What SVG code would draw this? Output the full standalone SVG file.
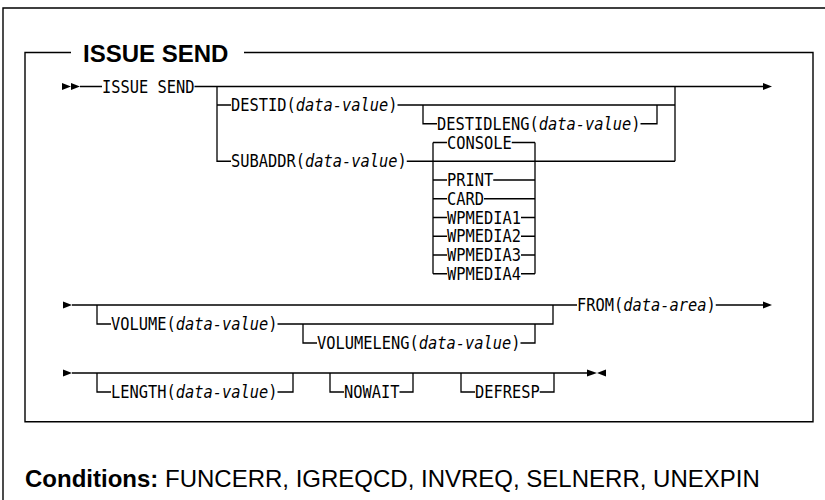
<svg xmlns="http://www.w3.org/2000/svg" width="825" height="500" viewBox="0 0 825 500">
<style>
.t{font-family:"DejaVu Sans Mono","Liberation Mono",monospace;font-size:16.8px;fill:#000}
.i{font-style:italic}
.c{fill:none;stroke:#000;stroke-width:1.3}
.f{fill:none;stroke:#000;stroke-width:1.4}
.a{fill:#000;stroke:none}
.h{font-family:"Liberation Sans",Arial,sans-serif;font-size:24px;fill:#000}
.b{font-weight:bold}
</style>
<rect x="0" y="0" width="825" height="500" fill="#fff"/>
<g id="frames">
<path class="f" d="M3,500 V8 H825"/>
<path class="f" d="M71,52.5 H25 V421.7 H813 V52.5 H244"/>
</g>
<g id="title"><text class="h b" x="83" y="62">ISSUE SEND</text></g>
<g id="connectors">
<polygon class="a" points="62,83 71,86.5 62,90"/>
<polygon class="a" points="71,83 80,86.5 71,90"/>
<path class="c" d="M80,86.5 H102 M194.5,86.5 H763"/>
<polygon class="a" points="763,83 772,86.5 763,90"/>
<path class="c" d="M217,86.5 V161.25 H231 M217,105 H231 M397.5,105 H675 M406.75,161.25 H675 M675,86.5 V161.25"/>
<path class="c" d="M423,105 V123.75 H437 M640.5,123.75 H657 V105"/>
<path class="c" d="M433,142.5 V273.75 M535,142.5 V273.75"/>
<path class="c" d="M433,142.5 H447 M511.75,142.5 H535 M433,180 H447 M493.25,180 H535 M433,198.75 H447 M484,198.75 H535 M433,217.5 H447 M521,217.5 H535 M433,236.25 H447 M521,236.25 H535 M433,255 H447 M521,255 H535 M433,273.75 H447 M521,273.75 H535"/>
<polygon class="a" points="63,301.5 72,305 63,308.5"/>
<path class="c" d="M72,305 H577 M715.75,305 H763"/>
<polygon class="a" points="763,301.5 772,305 763,308.5"/>
<path class="c" d="M97,305 V324 H111 M277.5,324 H553 V305"/>
<path class="c" d="M303,324 V343 H317 M520.5,343 H535 V324"/>
<polygon class="a" points="63,369.5 72,373 63,376.5"/>
<path class="c" d="M72,373 H588"/>
<polygon class="a" points="587,369.5 597,373 587,376.5"/>
<polygon class="a" points="606,369.5 597,373 606,376.5"/>
<path class="c" d="M97,373 V392 H111 M277.5,392 H293 V373"/>
<path class="c" d="M330,373 V392 H344 M399.5,392 H413 V373"/>
<path class="c" d="M461,373 V392 H475 M539.75,392 H554 V373"/>
</g>
<g id="n-issue-send"><text class="t" transform="translate(102,92.6) scale(0.915,1)">ISSUE SEND</text></g>
<g id="n-destid"><text class="t" transform="translate(231,111.1) scale(0.915,1)">DESTID(<tspan class="i">data-value</tspan>)</text></g>
<g id="n-destidleng"><text class="t" transform="translate(437,129.85) scale(0.915,1)">DESTIDLENG(<tspan class="i">data-value</tspan>)</text></g>
<g id="n-subaddr"><text class="t" transform="translate(231,167.35) scale(0.915,1)">SUBADDR(<tspan class="i">data-value</tspan>)</text></g>
<g id="n-console"><text class="t" transform="translate(447,148.6) scale(0.915,1)">CONSOLE</text></g>
<g id="n-print"><text class="t" transform="translate(447,186.1) scale(0.915,1)">PRINT</text></g>
<g id="n-card"><text class="t" transform="translate(447,204.85) scale(0.915,1)">CARD</text></g>
<g id="n-wpmedia1"><text class="t" transform="translate(447,223.6) scale(0.915,1)">WPMEDIA1</text></g>
<g id="n-wpmedia2"><text class="t" transform="translate(447,242.35) scale(0.915,1)">WPMEDIA2</text></g>
<g id="n-wpmedia3"><text class="t" transform="translate(447,261.1) scale(0.915,1)">WPMEDIA3</text></g>
<g id="n-wpmedia4"><text class="t" transform="translate(447,279.85) scale(0.915,1)">WPMEDIA4</text></g>
<g id="n-volume"><text class="t" transform="translate(111,330.1) scale(0.915,1)">VOLUME(<tspan class="i">data-value</tspan>)</text></g>
<g id="n-volumeleng"><text class="t" transform="translate(317,349.1) scale(0.915,1)">VOLUMELENG(<tspan class="i">data-value</tspan>)</text></g>
<g id="n-from"><text class="t" transform="translate(577,311.1) scale(0.915,1)">FROM(<tspan class="i">data-area</tspan>)</text></g>
<g id="n-length"><text class="t" transform="translate(111,398.1) scale(0.915,1)">LENGTH(<tspan class="i">data-value</tspan>)</text></g>
<g id="n-nowait"><text class="t" transform="translate(344,398.1) scale(0.915,1)">NOWAIT</text></g>
<g id="n-defresp"><text class="t" transform="translate(475,398.1) scale(0.915,1)">DEFRESP</text></g>
<g id="conditions"><text class="h" x="25" y="487"><tspan class="b">Conditions:</tspan> FUNCERR, IGREQCD, INVREQ, SELNERR, UNEXPIN</text></g>
</svg>
